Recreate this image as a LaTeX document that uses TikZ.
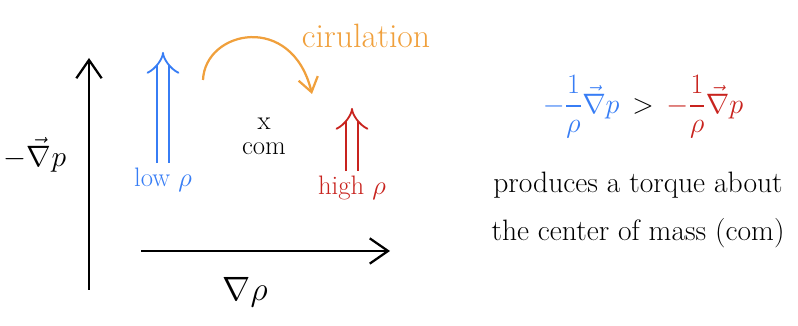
\RequirePackage{fix-cm}
\documentclass[tikz,border=0pt]{standalone}
\usepackage{amsmath}
\usetikzlibrary{arrows.meta,positioning}
\definecolor{lowblue}{RGB}{55,125,245}
\definecolor{highred}{RGB}{200,35,30}
\definecolor{circorange}{RGB}{240,160,60}

\begin{document}
\begin{tikzpicture}[x=0.025cm,y=-0.025cm,font=\fontsize{19}{24}\selectfont,
  axis/.style={line width=1.6pt,-{Straight Barb[length=13pt,width=18pt]}},
  force/.style={line width=1.3pt,double distance=7pt,-{Implies}},
  circarrow/.style={circorange,line width=1.6pt,-{Straight Barb[length=10pt,width=14pt]}},
  big/.style={font=\fontsize{21}{34}\selectfont}]
\useasboundingbox (0,0) rectangle (798,326);
% Axes
\coordinate (yfoot) at (89,290);
\coordinate (ytop) at (89,58);
\coordinate (xfoot) at (141,251);
\coordinate (xtip) at (390,251);
\draw[axis] (yfoot) -- (ytop);
\draw[axis] (xfoot) -- (xtip);
\node[font=\fontsize{21}{24}\selectfont] (ylabel) at (35,155) {$-\vec{\nabla}p$};
\node[font=\fontsize{24}{28}\selectfont] (xlabel) at (245,292) {$\nabla\rho$};
% Low density
\node[lowblue] (lowrho) at (163,180) {low $\rho$};
\coordinate (lowtip) at (lowrho.north |- 0,52);
\draw[force,lowblue] (lowrho.north) -- (lowtip);
% High density
\node[highred] (highrho) at (352,188) {high $\rho$};
\coordinate (hightip) at (highrho.north |- 0,108);
\draw[force,highred] (highrho.north) -- (hightip);
% Centre of mass
\node (comx) at (264,124) {x};
\node[below=2pt of comx] (com) {com};
% Circulation
\node[circorange,font=\fontsize{24}{28}\selectfont] (circ) at (366,36) {cirulation};
\coordinate (circstart) at (203,80);
\coordinate (circend) at (312,94);
\draw[circarrow] (circstart) .. controls (205,30) and (292,12) .. (circend);
% Inequality
\node[font=\fontsize{20}{24}\selectfont] (gt) at (643,106) {$>$};
\node[font=\fontsize{20}{24}\selectfont,lowblue,base left=2pt of gt] (lhs) {$-\dfrac{1}{\rho}\vec{\nabla}p$};
\node[font=\fontsize{20}{24}\selectfont,highred,base right=2pt of gt] (rhs) {$-\dfrac{1}{\rho}\vec{\nabla}p$};
\node[big,align=center] (torque) at (638,210) {produces a torque about\\the center of mass (com)};
\end{tikzpicture}
\end{document}
